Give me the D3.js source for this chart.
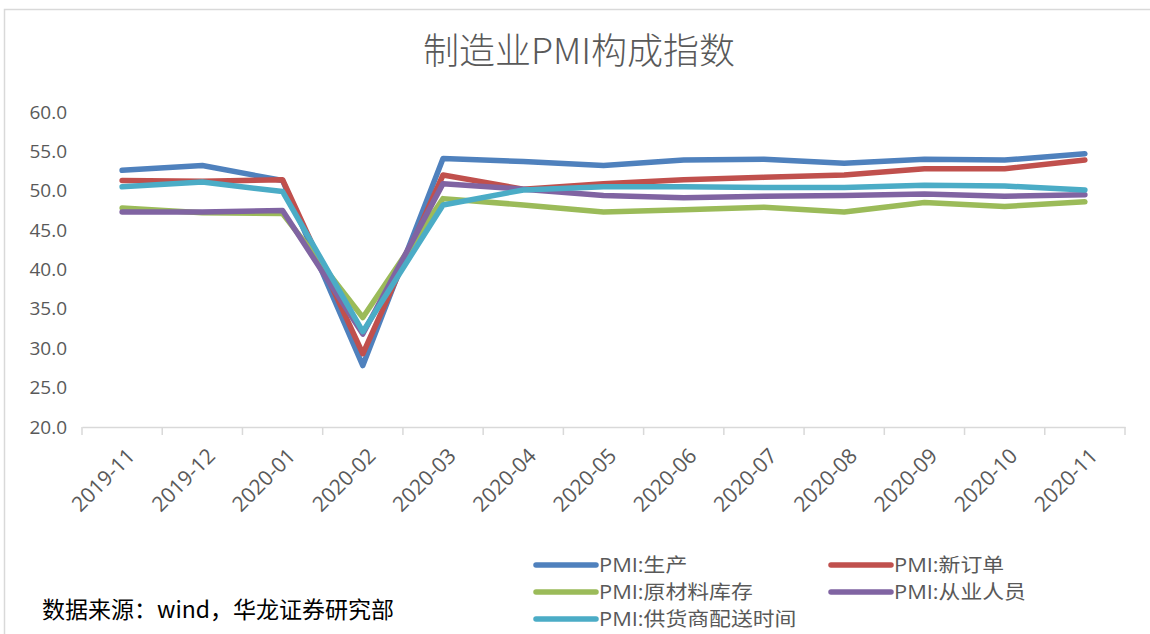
<!DOCTYPE html>
<html>
<head>
<meta charset="utf-8">
<script src="https://cdn.jsdelivr.net/npm/d3@7"></script>
<style>
	body { margin: 0; background: #fff; }
	svg text { font-family: "Open Sans", "Noto Sans CJK SC", sans-serif; }
</style>
</head>
<body>
<div id="chart"></div>
<script>
var months = ["2019-11", "2019-12", "2020-01", "2020-02", "2020-03", "2020-04", "2020-05",
	"2020-06", "2020-07", "2020-08", "2020-09", "2020-10", "2020-11"];

var production = [52.6, 53.2, 51.3, 27.8, 54.1, 53.7, 53.2, 53.9, 54.0, 53.5, 54.0, 53.9, 54.7];
var newOrders = [51.3, 51.2, 51.4, 29.3, 52.0, 50.2, 50.9, 51.4, 51.7, 52.0, 52.8, 52.8, 53.9];
var rawInventory = [47.8, 47.2, 47.1, 33.9, 49.0, 48.2, 47.3, 47.6, 47.9, 47.3, 48.5, 48.0, 48.6];
var employment = [47.3, 47.3, 47.5, 31.8, 50.9, 50.2, 49.4, 49.1, 49.3, 49.4, 49.6, 49.3, 49.5];
var delivery = [50.5, 51.1, 49.9, 32.1, 48.2, 50.1, 50.5, 50.5, 50.4, 50.4, 50.7, 50.6, 50.1];

var seriesNames = ["PMI:生产", "PMI:新订单", "PMI:原材料库存", "PMI:从业人员", "PMI:供货商配送时间"];
var seriesValues = [production, newOrders, rawInventory, employment, delivery];
var colors = ["#4f81bd", "#c0504d", "#9bbb59", "#8064a2", "#4bacc6"];
var yTicks = [20, 25, 30, 35, 40, 45, 50, 55, 60];

var width = 1150, height = 634;
var svg = d3.select("#chart").append("svg")
	.attr("width", width)
	.attr("height", height);

// chart frame
svg.append("rect")
	.attr("x", 4.5).attr("y", 9.5)
	.attr("width", 1160).attr("height", 640)
	.attr("fill", "none")
	.attr("stroke", "#d9d9d9")
	.attr("stroke-width", 1.5);

svg.append("text")
	.attr("x", 579).attr("y", 64)
	.attr("text-anchor", "middle")
	.attr("fill", "#595959")
	.style("font-family", "'Noto Sans CJK SC', sans-serif")
	.style("font-weight", 300)
	.style("font-size", "36px")
	.text("制造业PMI构成指数");

var x = d3.scaleBand().domain(months).range([82, 1125]);
var y = d3.scaleLinear().domain([20, 60]).range([427, 112]);

// x axis
var xAxis = svg.append("g")
	.attr("transform", "translate(0,427)")
	.call(d3.axisBottom(x).tickSize(0).tickFormat(""));
xAxis.select(".domain").attr("stroke", "#d9d9d9").attr("stroke-width", 1.5);

svg.append("g").selectAll("line")
	.data(d3.range(months.length + 1))
	.join("line")
	.attr("x1", function (i) { return 82 + i * x.step(); })
	.attr("x2", function (i) { return 82 + i * x.step(); })
	.attr("y1", 427).attr("y2", 435)
	.attr("stroke", "#d9d9d9")
	.attr("stroke-width", 1.5);

svg.append("g").selectAll("text")
	.data(months)
	.join("text")
	.attr("transform", function (d) {
		return "translate(" + (x(d) + x.bandwidth() / 2 + 9) + ",452) rotate(-45)";
	})
	.attr("text-anchor", "end")
	.attr("dy", "0.35em")
	.attr("fill", "#595959")
	.style("font-size", "21px")
	.text(function (d) { return d; });

// y axis labels
var yAxis = svg.append("g")
	.attr("transform", "translate(67,0)")
	.call(d3.axisLeft(y).tickValues(yTicks).tickSize(0).tickPadding(0).tickFormat(d3.format(".1f")));
yAxis.select(".domain").remove();
yAxis.selectAll("text")
	.attr("fill", "#595959")
	.style("font-size", "19px")
	.style("font-family", "'Open Sans', sans-serif");

var line = d3.line()
	.x(function (d, i) { return x(months[i]) + x.bandwidth() / 2; })
	.y(function (d) { return y(d); });

svg.append("g").selectAll("path")
	.data(seriesValues)
	.join("path")
	.attr("d", line)
	.attr("fill", "none")
	.attr("stroke", function (d, i) { return colors[i]; })
	.attr("stroke-width", 5.5)
	.attr("stroke-linejoin", "round")
	.attr("stroke-linecap", "round");

// legend
var legend = svg.append("g").selectAll("g")
	.data(seriesNames)
	.join("g")
	.attr("transform", function (d, i) {
		return "translate(" + (i % 2 === 0 ? 536 : 831) + "," + (565 + Math.floor(i / 2) * 27) + ")";
	});
legend.append("line")
	.attr("x1", 0).attr("x2", 60)
	.attr("stroke", function (d, i) { return colors[i]; })
	.attr("stroke-width", 5.5)
	.attr("stroke-linecap", "round");
legend.append("text")
	.attr("transform", "translate(63,0) scale(1.12,1)")
	.attr("dy", "0.36em")
	.attr("fill", "#595959")
	.style("font-size", "19.5px")
	.text(function (d) { return d; });

svg.append("text")
	.attr("x", 42).attr("y", 618)
	.attr("fill", "#000")
	.style("font-family", "'Noto Sans CJK SC', sans-serif")
	.style("font-size", "23px")
	.text("数据来源：wind，华龙证券研究部");
</script>
</body>
</html>
